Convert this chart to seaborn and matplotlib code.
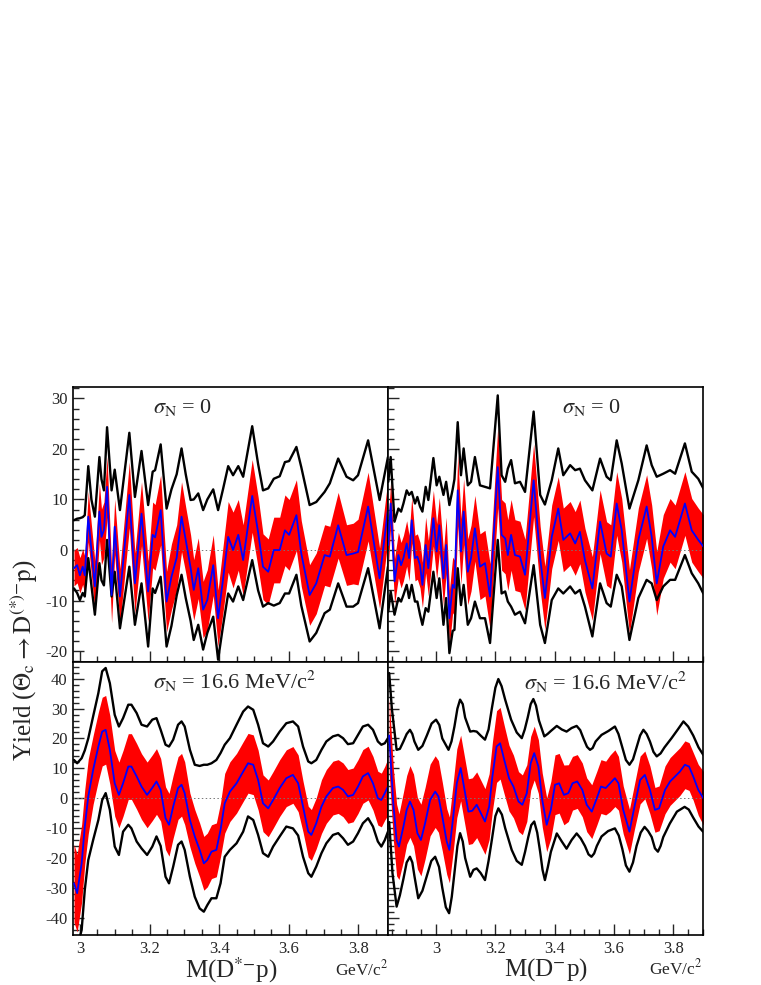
import numpy as np
import matplotlib
matplotlib.use("Agg")
import matplotlib.pyplot as plt
from matplotlib.ticker import MultipleLocator
import seaborn as sns

# ---- top left: M(D*- p), sigma_N = 0 ----
tl_x = [2.983, 2.992, 3.000, 3.008, 3.014, 3.024, 3.033, 3.043, 3.056, 3.062,
        3.069, 3.078, 3.091, 3.100, 3.115, 3.142, 3.158, 3.177, 3.196, 3.209,
        3.216, 3.232, 3.249, 3.263, 3.278, 3.292, 3.304, 3.318, 3.327, 3.340,
        3.354, 3.366, 3.383, 3.397, 3.411, 3.426, 3.440, 3.455, 3.469, 3.495,
        3.512, 3.526, 3.541, 3.557, 3.574, 3.589, 3.601, 3.622, 3.636, 3.660,
        3.679, 3.703, 3.718, 3.742, 3.766, 3.785, 3.799, 3.828, 3.861, 3.885]
tl_mid = [-3.6, -3.0, -5.0, -3.3, -5.0, 6.6, 0.0, -7.2, 7.6, 2.6,
          4.0, 12.5, -8.9, 4.6, -9.2, 10.9, -6.6, 7.2, -8.2, 3.0,
          2.5, 7.9, -10.2, -5.3, -1.5, 6.6, 2.0, -3.5, -7.9, -3.6,
          -11.8, -9.9, -3.0, -13.5, -5.9, 2.6, 0.0, 3.0, -2.0, 10.7,
          3.5, -3.3, -4.3, 0.0, 0.0, 3.9, 3.0, 6.9, -0.7, -8.9,
          -6.6, -1.0, -1.3, 4.9, -1.0, -0.7, -0.4, 8.6, -5.6, 8.0]
tl_band = [3.5, 3.5, 3.5, 3.5, 3.8, 5.0, 5.0, 5.0, 5.6, 5.5,
           5.5, 6.0, 5.5, 5.5, 5.5, 6.5, 6.0, 6.3, 6.0, 6.5,
           6.5, 6.9, 6.0, 6.5, 6.5, 6.9, 6.5, 6.5, 6.0, 6.0,
           5.6, 6.0, 6.0, 5.6, 6.5, 7.0, 7.5, 7.0, 7.0, 7.2,
           7.0, 6.5, 6.5, 6.5, 6.5, 7.0, 7.0, 7.0, 6.5, 6.0,
           6.0, 6.0, 6.0, 6.5, 6.0, 6.0, 6.5, 6.8, 6.0, 6.0]
tl_hi = [5.9, 6.2, 6.3, 6.5, 6.9, 16.6, 10.0, 6.6, 18.4, 14.0,
         11.8, 24.3, 11.8, 15.9, 7.9, 23.2, 10.5, 19.6, 8.9, 15.5,
         15.8, 20.9, 8.2, 12.0, 15.0, 20.1, 15.0, 9.9, 10.0, 11.2,
         7.9, 10.0, 12.0, 7.9, 12.0, 16.6, 14.8, 16.6, 14.5, 24.5,
         17.0, 11.8, 12.2, 14.1, 14.6, 17.4, 17.6, 20.4, 16.4, 8.9,
         9.5, 11.5, 13.2, 18.1, 14.5, 13.8, 14.8, 21.7, 9.9, 18.4]
tl_lo = [-7.6, -8.5, -9.9, -8.5, -9.2, -1.6, -7.0, -12.8, -2.6, -6.0,
         -7.0, 2.0, -9.2, -4.3, -15.5, -3.3, -14.8, -6.6, -19.1, -7.6,
         -8.5, -5.3, -19.1, -15.0, -9.0, -4.9, -9.5, -14.0, -17.8, -14.8,
         -19.7, -16.4, -13.2, -21.7, -15.1, -8.6, -10.2, -7.2, -9.9, -2.0,
         -8.0, -11.2, -10.5, -11.0, -10.5, -8.6, -8.6, -4.9, -11.0, -18.1,
         -16.4, -12.5, -11.8, -6.6, -11.2, -11.2, -10.5, -3.6, -15.5, -3.3]

# ---- top right: M(D- p), sigma_N = 0 ----
tr_x = [2.839, 2.847, 2.860, 2.873, 2.882, 2.890, 2.901, 2.909, 2.918, 2.929,
        2.937, 2.946, 2.954, 2.965, 2.974, 2.991, 3.002, 3.011, 3.025, 3.034,
        3.045, 3.056, 3.062, 3.073, 3.084, 3.093, 3.107, 3.118, 3.131, 3.148,
        3.165, 3.182, 3.208, 3.221, 3.233, 3.242, 3.253, 3.266, 3.283, 3.300,
        3.329, 3.351, 3.367, 3.390, 3.412, 3.429, 3.452, 3.469, 3.485, 3.502,
        3.527, 3.553, 3.575, 3.589, 3.609, 3.626, 3.652, 3.682, 3.710, 3.727,
        3.744, 3.766, 3.789, 3.806, 3.839, 3.862, 3.884, 3.901]
tr_mid = [1.0, 9.2, -6.2, -1.0, -3.0, -1.6, 1.3, -1.6, 5.9, -1.6,
          -1.3, -3.0, -6.9, 1.0, -3.6, 6.3, -0.3, 4.9, -5.6, 1.0,
          -13.5, -6.9, -7.5, 11.8, -0.3, 7.6, -4.3, -1.6, 4.3, -3.3,
          -2.6, -9.2, 16.4, 3.0, 2.3, -1.0, 3.0, -1.0, -1.3, -4.9,
          13.8, -1.6, -9.5, 2.6, 8.2, 2.0, 3.3, 1.3, 3.6, -2.0,
          -7.6, 5.6, -0.7, -1.3, 9.2, 3.9, -10.2, 2.0, 8.6, 2.6,
          -6.6, 0.7, 3.9, 2.6, 9.2, 3.9, 2.0, 0.7]
tr_band = [4.5, 4.5, 4.5, 4.5, 4.5, 4.5, 4.5, 4.5, 4.5, 4.5,
           4.5, 4.5, 4.5, 5.5, 5.5, 5.5, 5.5, 5.5, 5.5, 5.5,
           5.5, 5.5, 5.5, 7.0, 6.5, 6.5, 6.5, 6.5, 6.5, 6.5,
           6.5, 6.5, 8.0, 7.0, 7.0, 7.0, 7.0, 7.0, 7.0, 7.0,
           7.2, 6.3, 6.3, 6.3, 6.3, 6.3, 6.3, 6.3, 6.3, 6.3,
           6.3, 6.3, 6.3, 6.3, 6.3, 6.3, 6.3, 6.3, 6.3, 6.3,
           6.3, 6.3, 6.3, 6.3, 6.3, 6.3, 6.3, 6.3]
tr_hi = [13.5, 18.4, 5.6, 8.2, 7.6, 9.2, 11.8, 10.9, 11.5, 9.2,
         10.5, 8.6, 7.6, 12.5, 9.9, 18.2, 12.8, 14.5, 10.9, 13.5,
         8.9, 12.0, 14.0, 25.3, 14.8, 20.1, 12.8, 13.5, 18.4, 12.8,
         12.5, 12.2, 30.6, 14.8, 13.5, 16.1, 17.8, 13.2, 13.5, 11.5,
         27.4, 10.9, 9.0, 13.8, 20.1, 14.8, 16.8, 15.8, 16.1, 13.8,
         11.8, 18.1, 14.5, 13.8, 21.7, 17.1, 8.2, 13.8, 20.7, 16.8,
         14.5, 15.1, 15.8, 15.1, 21.1, 15.5, 14.1, 12.2]
tr_lo = [-12.2, -8.2, -12.8, -9.5, -10.2, -8.9, -6.9, -9.5, -6.9, -10.2,
         -10.2, -12.8, -14.8, -11.5, -12.2, -4.3, -9.5, -5.6, -14.8, -9.5,
         -20.4, -16.0, -15.8, -3.6, -10.9, -6.9, -14.8, -13.5, -10.2, -13.5,
         -13.5, -18.4, 2.0, -8.6, -8.2, -10.2, -11.2, -12.8, -12.2, -14.5,
         -3.0, -14.8, -18.4, -9.9, -7.6, -8.6, -7.2, -8.6, -7.9, -11.2,
         -17.1, -6.6, -10.5, -11.2, -4.9, -7.2, -17.8, -9.5, -5.9, -6.6,
         -9.9, -7.2, -5.9, -5.9, -1.0, -4.6, -6.6, -8.6]

# ---- bottom left: M(D*- p), sigma_N = 16.6 MeV/c2 ----
bl_x = [2.983, 2.992, 3.005, 3.014, 3.024, 3.038, 3.053, 3.064, 3.074, 3.086,
        3.100, 3.112, 3.124, 3.139, 3.148, 3.163, 3.177, 3.193, 3.208, 3.220,
        3.232, 3.246, 3.256, 3.268, 3.282, 3.292, 3.301, 3.316, 3.330, 3.344,
        3.356, 3.366, 3.378, 3.392, 3.404, 3.416, 3.431, 3.450, 3.469, 3.483,
        3.498, 3.512, 3.526, 3.541, 3.555, 3.574, 3.593, 3.612, 3.627, 3.641,
        3.656, 3.665, 3.679, 3.694, 3.708, 3.727, 3.742, 3.756, 3.770, 3.785,
        3.799, 3.813, 3.828, 3.842, 3.856, 3.866, 3.876, 3.885]
bl_mid = [-28.5, -31.8, -21.8, -9.5, 0.6, 9.5, 17.3, 22.3, 22.9, 16.2,
          5.0, 1.1, 5.0, 10.6, 10.6, 7.3, 3.9, 1.1, 3.5, 5.6,
          2.8, -6.7, -8.9, -2.8, 3.4, 4.5, 1.7, -7.3, -12.8, -17.3,
          -21.8, -20.7, -17.9, -17.3, -10.6, -1.7, 2.2, 5.0, 8.9, 11.7,
          11.2, 6.1, -1.7, -3.4, -0.6, 3.4, 6.7, 7.8, 5.0, -2.8,
          -11.2, -12.3, -8.4, -2.8, 0.6, 3.4, 3.9, 2.8, 0.6, 1.1,
          3.9, 7.3, 8.4, 5.0, 0.0, -0.6, 1.7, 3.9]
bl_band = [13.0, 13.0, 13.0, 12.5, 12.5, 11.5, 11.5, 11.5, 11.5, 11.5,
           11.0, 11.0, 11.0, 11.0, 11.0, 11.0, 11.0, 11.0, 11.0, 11.0,
           10.5, 10.5, 10.5, 10.5, 10.5, 10.5, 10.5, 9.0, 9.0, 9.0,
           9.0, 9.0, 9.0, 9.0, 9.0, 10.0, 10.0, 10.0, 10.0, 10.0,
           10.0, 10.0, 9.5, 9.5, 9.5, 9.5, 9.5, 9.5, 9.5, 8.5,
           8.5, 8.5, 8.5, 9.0, 9.0, 9.0, 9.0, 9.0, 9.0, 9.0,
           9.0, 9.0, 9.0, 9.0, 9.0, 9.0, 9.0, 9.5]
bl_hi = [12.8, 11.7, 13.4, 16.0, 20.0, 27.4, 35.2, 42.5, 43.6, 38.5,
         27.9, 24.0, 26.8, 31.3, 31.3, 28.5, 24.6, 24.0, 26.3, 26.8,
         22.9, 17.9, 17.3, 19.6, 24.6, 25.7, 24.0, 16.2, 11.2, 10.8,
         11.2, 11.2, 11.7, 12.8, 15.1, 17.9, 20.1, 24.6, 29.0, 30.7,
         29.6, 24.6, 18.4, 17.3, 19.0, 22.3, 25.1, 25.7, 24.0, 17.3,
         12.3, 11.7, 12.8, 16.2, 19.0, 20.7, 21.2, 20.1, 18.1, 18.4,
         21.2, 24.0, 24.6, 22.9, 19.0, 17.9, 18.4, 20.1]
bl_lo = [-52.0, -50.0, -44.1, -30.7, -20.7, -14.0, -7.3, -0.6, 1.7, -3.9,
         -16.2, -19.0, -11.2, -8.9, -10.1, -14.5, -16.8, -19.0, -16.2, -12.8,
         -16.0, -26.3, -28.5, -22.9, -15.6, -14.5, -17.3, -26.3, -33.0, -36.9,
         -38.0, -35.8, -33.5, -33.5, -28.5, -19.6, -17.3, -15.1, -11.2, -6.1,
         -7.3, -12.3, -18.4, -19.6, -16.2, -12.8, -9.5, -10.1, -12.5, -19.6,
         -25.1, -26.3, -22.9, -18.4, -15.1, -12.3, -11.7, -13.4, -15.6, -14.5,
         -11.7, -8.4, -6.7, -9.5, -14.5, -16.2, -14.0, -11.2]

# ---- bottom right: M(D- p), sigma_N = 16.6 MeV/c2 ----
br_x = [2.842, 2.856, 2.867, 2.875, 2.890, 2.901, 2.912, 2.924, 2.937, 2.949,
        2.963, 2.980, 2.997, 3.008, 3.021, 3.036, 3.045, 3.058, 3.070, 3.083,
        3.096, 3.109, 3.122, 3.137, 3.151, 3.165, 3.179, 3.190, 3.204, 3.216,
        3.230, 3.246, 3.261, 3.278, 3.291, 3.306, 3.319, 3.331, 3.345, 3.358,
        3.373, 3.387, 3.401, 3.415, 3.431, 3.446, 3.460, 3.476, 3.493, 3.508,
        3.525, 3.542, 3.556, 3.572, 3.587, 3.603, 3.615, 3.631, 3.652, 3.669,
        3.688, 3.704, 3.721, 3.738, 3.752, 3.772, 3.789, 3.806, 3.822, 3.839,
        3.853, 3.867, 3.884, 3.901]
br_mid = [21.0, -2.0, -14.0, -16.2, -9.5, -3.9, -1.1, -3.9, -11.7, -14.0,
          -8.4, -0.6, 2.2, 0.6, -6.1, -14.5, -17.3, -6.1, 5.0, 10.1,
          2.8, -4.5, -4.2, -2.2, -5.0, -7.8, -2.8, 7.3, 17.3, 18.4,
          12.8, 6.7, 3.9, -1.1, -2.2, 1.7, 11.7, 15.1, 10.6, -0.6,
          -8.9, -3.9, 4.5, 5.0, 1.1, 1.7, 5.0, 5.6, 2.8, -2.2,
          -4.5, 0.0, 3.9, 3.4, 5.0, 6.7, 5.0, -3.9, -11.2, -2.8,
          6.1, 7.8, 2.8, -3.9, -3.4, 2.8, 5.6, 7.3, 8.9, 11.2,
          10.6, 7.3, 2.8, 0.0]
br_band = [12.5, 12.0, 12.0, 11.0, 11.5, 11.5, 12.0, 12.0, 12.0, 12.0,
           12.0, 12.0, 12.0, 12.0, 11.5, 11.0, 11.0, 11.5, 11.5, 11.0,
           11.0, 11.0, 11.0, 11.0, 11.0, 11.0, 11.0, 11.5, 12.0, 12.0,
           11.5, 11.0, 10.5, 10.0, 10.0, 9.5, 9.0, 9.0, 9.0, 9.0,
           9.0, 9.5, 10.0, 10.0, 10.0, 9.5, 9.0, 9.0, 9.0, 9.0,
           9.0, 9.0, 9.0, 9.0, 9.5, 9.5, 9.0, 8.0, 7.5, 7.5,
           8.0, 8.0, 8.0, 7.5, 7.5, 8.0, 8.0, 8.0, 8.0, 8.0,
           8.0, 8.0, 8.5, 9.0]
br_hi_x = [2.842, 2.851, 2.867, 2.878, 2.890, 2.901, 2.912, 2.920, 2.927, 2.940,
           2.954, 2.969, 2.985, 3.000, 3.011, 3.021, 3.042, 3.052, 3.062, 3.072,
           3.081, 3.090, 3.098, 3.115, 3.126, 3.137, 3.150, 3.165, 3.177, 3.188,
           3.200, 3.210, 3.221, 3.233, 3.253, 3.272, 3.289, 3.299, 3.309, 3.319,
           3.328, 3.337, 3.347, 3.365, 3.376, 3.387, 3.407, 3.424, 3.440, 3.457,
           3.474, 3.486, 3.497, 3.509, 3.519, 3.528, 3.538, 3.558, 3.581, 3.603,
           3.615, 3.628, 3.640, 3.652, 3.664, 3.676, 3.688, 3.699, 3.710, 3.721,
           3.733, 3.744, 3.757, 3.770, 3.794, 3.815, 3.834, 3.850, 3.867, 3.885,
           3.901]
br_hi = [41.9, 30.0, 16.2, 16.5, 19.0, 21.5, 22.9, 21.5, 19.0, 16.2,
         17.5, 21.0, 25.0, 26.3, 24.5, 20.0, 16.2, 19.0, 24.0, 30.0,
         33.0, 31.5, 27.0, 22.3, 22.5, 22.3, 21.0, 19.6, 23.0, 30.0,
         37.0, 39.9, 37.5, 33.0, 26.3, 22.0, 20.1, 23.0, 27.0, 31.5,
         33.2, 31.0, 26.0, 20.7, 21.5, 22.5, 24.2, 23.0, 22.3, 23.5,
         24.2, 22.8, 20.0, 17.2, 16.2, 16.8, 19.0, 21.2, 22.5, 24.0,
         21.5, 17.0, 12.8, 11.2, 13.0, 17.0, 21.0, 22.9, 21.5, 19.0,
         15.5, 14.0, 15.0, 17.0, 20.1, 23.0, 25.7, 24.0, 21.0, 17.0,
         14.5]
br_lo_x = [2.842, 2.853, 2.867, 2.878, 2.890, 2.901, 2.912, 2.920, 2.927, 2.940,
           2.954, 2.969, 2.984, 2.997, 3.010, 3.021, 3.033, 3.044, 3.053, 3.062,
           3.072, 3.081, 3.090, 3.098, 3.115, 3.126, 3.137, 3.150, 3.165, 3.177,
           3.188, 3.200, 3.210, 3.222, 3.233, 3.255, 3.272, 3.289, 3.300, 3.311,
           3.321, 3.331, 3.341, 3.351, 3.359, 3.367, 3.377, 3.387, 3.407, 3.424,
           3.440, 3.457, 3.474, 3.488, 3.502, 3.514, 3.524, 3.533, 3.542, 3.558,
           3.580, 3.603, 3.616, 3.628, 3.640, 3.652, 3.664, 3.676, 3.690, 3.703,
           3.715, 3.727, 3.738, 3.748, 3.757, 3.766, 3.788, 3.812, 3.838, 3.852,
           3.867, 3.885, 3.901]
br_lo = [-8.0, -25.0, -36.3, -32.5, -27.0, -21.5, -19.6, -21.5, -26.0, -33.5,
         -31.0, -26.0, -21.0, -19.6, -23.0, -30.0, -36.5, -38.5, -33.0, -25.0,
         -16.0, -11.7, -14.5, -20.0, -26.3, -24.0, -23.5, -25.0, -27.4, -21.0,
         -14.0, -6.0, -3.4, -5.5, -10.0, -17.3, -21.0, -22.3, -18.0, -13.0,
         -9.0, -7.8, -11.5, -18.0, -24.0, -27.4, -23.0, -18.0, -11.8, -14.5,
         -16.9, -14.0, -11.8, -13.5, -16.0, -18.8, -19.6, -18.5, -16.0, -12.8,
         -11.0, -10.1, -12.5, -17.0, -22.5, -24.6, -21.5, -16.0, -11.5, -9.6,
         -11.0, -13.0, -16.8, -17.9, -16.0, -13.0, -8.5, -4.5, -2.9, -3.8,
         -6.5, -9.5, -11.3]

x_major = [3.0, 3.2, 3.4, 3.6, 3.8]
x_major_labels = ["3", "3.2", "3.4", "3.6", "3.8"]
sigma_labels = [r"$\sigma_{\mathrm{N}}$ = 0", r"$\sigma_{\mathrm{N}}$ = 16.6 MeV/c$^{2}$"]

sns.set_style("ticks")
plt.rcParams["font.family"] = ["Liberation Serif", "DejaVu Serif"]
plt.rcParams["mathtext.fontset"] = "stix"
plt.rcParams["axes.unicode_minus"] = False

W, H = 761, 985
fig = plt.figure(figsize=(W / 100, H / 100), dpi=100)


def px_box(x0, y0, x1, y1):
    return [x0 / W, 1 - y1 / H, (x1 - x0) / W, (y1 - y0) / H]


def draw_panel(ax, x, mid, band, hi_x, hi, lo_x, lo, xlim, ylim, left, bottom):
    mid = np.asarray(mid)
    band = np.asarray(band)
    ax.fill_between(x, mid - band, mid + band, color="#ff0000", lw=0, zorder=1)
    ax.axhline(0, color="#777777", lw=0.7, ls=(0, (1.5, 2.5)), zorder=2)
    for cx, cy in ((hi_x, hi), (lo_x, lo)):
        sns.lineplot(x=cx, y=cy, ax=ax, color="black", lw=1.7, estimator=None,
                     sort=False, zorder=3, solid_joinstyle="round")
    sns.lineplot(x=x, y=mid, ax=ax, color="#0000ff", lw=1.3, estimator=None,
                 sort=False, zorder=4, solid_joinstyle="round")
    ax.set_xlim(*xlim)
    ax.set_ylim(*ylim)
    ax.set_xlabel("")
    ax.set_ylabel("")
    ax.set_xticks(x_major)
    ax.set_xticklabels(x_major_labels)
    ax.xaxis.set_minor_locator(MultipleLocator(0.05))
    ax.yaxis.set_major_locator(MultipleLocator(10))
    ax.yaxis.set_minor_locator(MultipleLocator(2))
    ax.tick_params(which="both", direction="in", top=False, right=False,
                   width=1.0, labelsize=12, pad=4)
    ax.tick_params(which="major", length=8)
    ax.tick_params(which="minor", length=4.5)
    ax.tick_params(labelleft=left, labelbottom=bottom)
    for s in ax.spines.values():
        s.set_linewidth(1.2)
        s.set_color("black")


left_xlim = (2.981, 3.886)
right_xlim = (2.839, 3.901)
top_ylim = (-22.1, 32.2)
bot_ylim = (-45.8, 45.7)

ax_tl = fig.add_axes(px_box(73.3, 387.3, 388.3, 661.7))
ax_tr = fig.add_axes(px_box(388.3, 387.3, 703.3, 661.7))
ax_bl = fig.add_axes(px_box(73.3, 661.7, 388.3, 935))
ax_br = fig.add_axes(px_box(388.3, 661.7, 703.3, 935))

draw_panel(ax_tl, tl_x, tl_mid, tl_band, tl_x, tl_hi, tl_x, tl_lo,
           left_xlim, top_ylim, True, False)
draw_panel(ax_tr, tr_x, tr_mid, tr_band, tr_x, tr_hi, tr_x, tr_lo,
           right_xlim, top_ylim, False, False)
draw_panel(ax_bl, bl_x, bl_mid, bl_band, bl_x, bl_hi, bl_x, bl_lo,
           left_xlim, bot_ylim, True, True)
draw_panel(ax_br, br_x, br_mid, br_band, br_hi_x, br_hi, br_lo_x, br_lo,
           right_xlim, bot_ylim, False, True)

# panel annotations
fig.text(153 / W, 1 - 413 / H, sigma_labels[0], fontsize=16, ha="left", va="baseline")
fig.text(562 / W, 1 - 413 / H, sigma_labels[0], fontsize=16, ha="left", va="baseline")
fig.text(153 / W, 1 - 689 / H, sigma_labels[1], fontsize=16, ha="left", va="baseline")
fig.text(524 / W, 1 - 690 / H, sigma_labels[1], fontsize=16, ha="left", va="baseline")

# axis titles
fig.text(24 / W, 1 - 660 / H,
         r"Yield ($\Theta_{\mathrm{c}}\rightarrow\mathrm{D}^{(*){-}}\mathrm{p}$)",
         fontsize=18, rotation=90, ha="center", va="center")
fig.text(231 / W, 1 - 970 / H, r"M(D$^{*{-}}$p)", fontsize=18, ha="center", va="center")
fig.text(546 / W, 1 - 970 / H, r"M(D$^{-}$p)", fontsize=18, ha="center", va="center")
fig.text(362 / W, 1 - 969 / H, r"GeV/c$^{2}$", fontsize=12.5, ha="center", va="center")
fig.text(676 / W, 1 - 968 / H, r"GeV/c$^{2}$", fontsize=12.5, ha="center", va="center")

fig.savefig("out.png", dpi=100)
